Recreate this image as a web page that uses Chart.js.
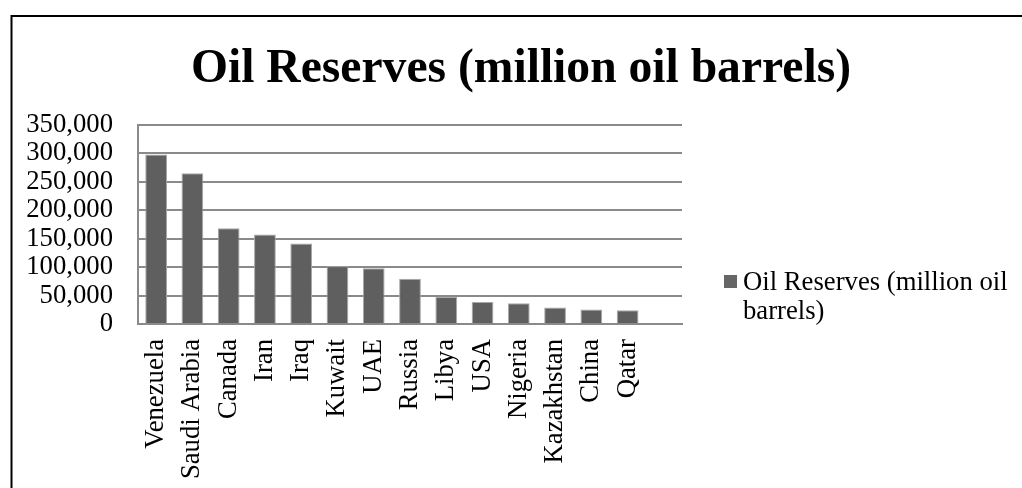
<!DOCTYPE html>
<html>
<head>
<meta charset="utf-8">
<script src="https://cdn.jsdelivr.net/npm/chart.js@4"></script>
<style>
	body { margin: 0; background: #fff; }
	canvas { display: block; }
</style>
</head>
<body>
<canvas id="oilChart" width="1022" height="488"></canvas>
<script>
// chart data
const countries = ["Venezuela", "Saudi Arabia", "Canada", "Iran", "Iraq", "Kuwait", "UAE", "Russia", "Libya", "USA", "Nigeria", "Kazakhstan", "China", "Qatar", ""];
const reserves = [298000, 265000, 168500, 157300, 141400, 101500, 98000, 79800, 47500, 38500, 36500, 29000, 25300, 24300, null];
const yTicks = [0, 50000, 100000, 150000, 200000, 250000, 300000, 350000];

const titleText = "Oil Reserves (million oil barrels)";
const seriesName = "Oil Reserves (million oil barrels)";
const legendLines = ["Oil Reserves (million oil", "barrels)"];

const SERIF = "'Liberation Serif', 'Times New Roman', serif";
const BAR_COLOR = "#5f5f5f";
const GRID_COLOR = "#8a8a8a";
const FONT_SIZE = 26.7;

// title, legend and outer frame drawn on the canvas
const decorPlugin = {
	id: "decor",
	afterDraw(chart) {
		const ctx = chart.ctx;
		ctx.save();

		// frame (only top and left edges visible)
		ctx.strokeStyle = "#000";
		ctx.lineWidth = 2;
		ctx.beginPath();
		ctx.moveTo(11.5, 490);
		ctx.lineTo(11.5, 16);
		ctx.lineTo(1030, 16);
		ctx.stroke();

		// title
		ctx.fillStyle = "#000";
		ctx.font = "bold 47.6px " + SERIF;
		ctx.textAlign = "center";
		ctx.textBaseline = "alphabetic";
		ctx.fillText(titleText, 521, 82);

		// legend
		ctx.fillStyle = "#666666";
		ctx.fillRect(724, 275, 13, 13);
		ctx.fillStyle = "#000";
		ctx.font = FONT_SIZE + "px " + SERIF;
		ctx.textAlign = "left";
		ctx.textBaseline = "middle";
		ctx.fillText(legendLines[0], 743, 283);
		ctx.fillText(legendLines[1], 743, 312);

		ctx.restore();
	},
};

const oilChart = new Chart(document.getElementById("oilChart"), {
	type: "bar",
	data: {
		labels: countries,
		datasets: [
			{
				label: seriesName,
				data: reserves,
				backgroundColor: BAR_COLOR,
				borderColor: "#a8a8a8",
				borderWidth: 1,
				barPercentage: 0.6,
				categoryPercentage: 1,
			},
		],
	},
	options: {
		responsive: false,
		animation: false,
		layout: {
			padding: { top: 125, right: 340, left: 0, bottom: 0 },
		},
		plugins: {
			legend: { display: false },
			title: { display: false },
			tooltip: { enabled: false },
		},
		scales: {
			x: {
				afterFit: (scale) => {
					scale.height = 164;
				},
				grid: { display: false },
				border: { display: true, color: GRID_COLOR, width: 2 },
				ticks: {
					autoSkip: false,
					minRotation: 90,
					maxRotation: 90,
					padding: 7,
					color: "#000",
					font: { family: SERIF, size: FONT_SIZE },
				},
			},
			y: {
				min: 0,
				max: 350000,
				afterFit: (scale) => {
					scale.width = 138;
				},
				afterBuildTicks: (scale) => {
					scale.ticks = yTicks.map((v) => ({ value: v }));
				},
				grid: {
					color: GRID_COLOR,
					lineWidth: 2,
					drawTicks: false,
				},
				border: { display: true, color: GRID_COLOR, width: 2 },
				ticks: {
					autoSkip: false,
					padding: 25,
					color: "#000",
					font: { family: SERIF, size: FONT_SIZE },
					callback: (v) => Number(v).toLocaleString("en-US"),
				},
			},
		},
	},
	plugins: [decorPlugin],
});
</script>
</body>
</html>
